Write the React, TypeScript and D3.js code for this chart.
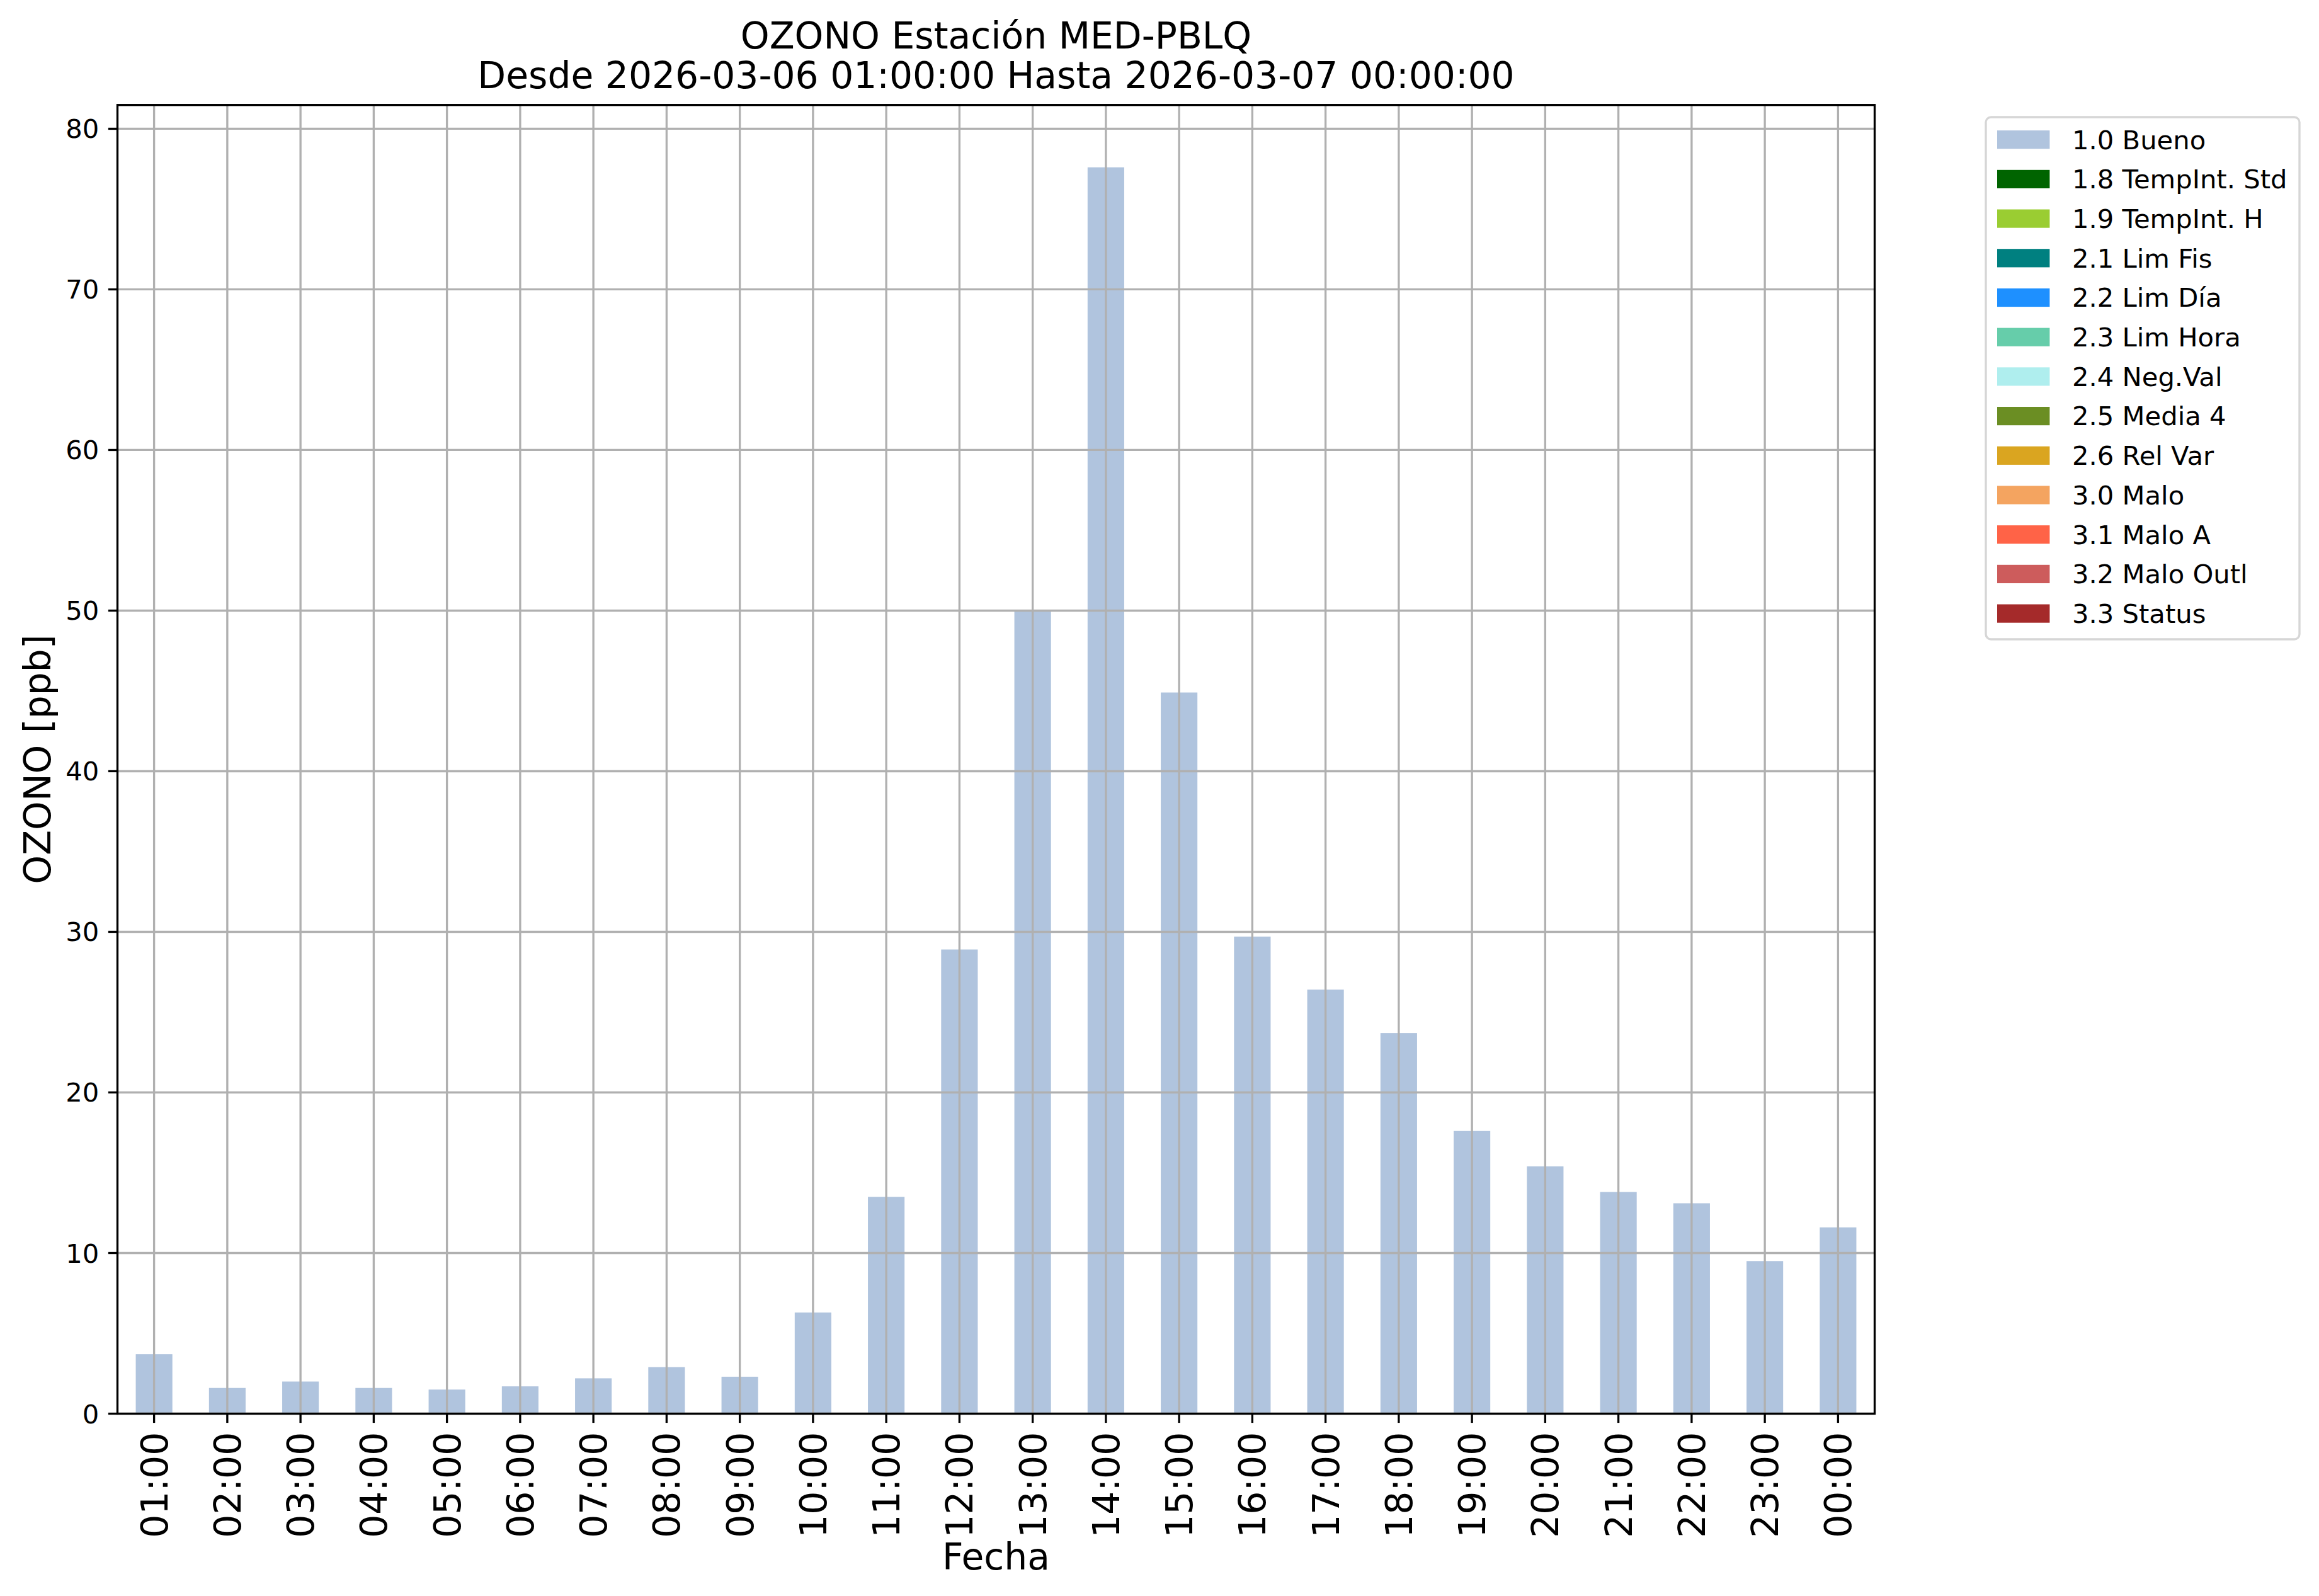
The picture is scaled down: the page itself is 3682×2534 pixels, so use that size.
import React from "react";
import * as d3 from "d3";

const hours = ["01:00","02:00","03:00","04:00","05:00","06:00","07:00","08:00","09:00","10:00","11:00","12:00","13:00","14:00","15:00","16:00","17:00","18:00","19:00","20:00","21:00","22:00","23:00","00:00"];
const ozono = [3.7,1.6,2.0,1.6,1.5,1.7,2.2,2.9,2.3,6.3,13.5,28.9,50.0,77.6,44.9,29.7,26.4,23.7,17.6,15.4,13.8,13.1,9.5,11.6];
const yTicks = [0,10,20,30,40,50,60,70,80];
const legendLabels = ["1.0 Bueno","1.8 TempInt. Std","1.9 TempInt. H","2.1 Lim Fis","2.2 Lim Día","2.3 Lim Hora","2.4 Neg.Val","2.5 Media 4","2.6 Rel Var","3.0 Malo","3.1 Malo A","3.2 Malo Outl","3.3 Status"];
const legendColors = ["#b0c4de","#006400","#9acd32","#008080","#1e90ff","#66cdaa","#afeeee","#6b8e23","#daa520","#f4a460","#ff6347","#cd5c5c","#a52a2a"];
const titleLines = ["OZONO Estación MED-PBLQ","Desde 2026-03-06 01:00:00 Hasta 2026-03-07 00:00:00"];

const W = 3682, H = 2534;
const L = 186.5, R = 2976.5, T = 166.7, B = 2244.5;
const FONT = "DejaVu Sans, sans-serif";

export default function App() {
  const x = d3.scaleLinear().domain([-0.5, hours.length - 0.5]).range([L, R]);
  const y = d3.scaleLinear().domain([0, 81.48]).range([B, T]);
  const bw = x(0.25) - x(-0.25);
  const lw = 3.33;
  const grid = "#b0b0b0";
  const cx = (L + R) / 2;
  const rowY = (i: number) => 221.7 + i * 62.7;
  return (
    <svg width={W} height={H} style={{ position: "absolute", left: 0, top: 0, background: "#fff" }} fontFamily={FONT}>
      <rect x={0} y={0} width={W} height={H} fill="#fff" />
      {/* bars */}
      {ozono.map((v, i) => (
        <rect key={"b" + i} x={x(i) - bw / 2} y={y(v)} width={bw} height={y(0) - y(v)} fill="#b0c4de" />
      ))}
      {/* grid */}
      {hours.map((h, i) => (
        <line key={"gx" + i} x1={x(i)} x2={x(i)} y1={T} y2={B} stroke={grid} strokeWidth={lw} />
      ))}
      {yTicks.map((t) => (
        <line key={"gy" + t} x1={L} x2={R} y1={y(t)} y2={y(t)} stroke={grid} strokeWidth={lw} />
      ))}
      {/* spines */}
      <rect x={L} y={T} width={R - L} height={B - T} fill="none" stroke="#000" strokeWidth={lw} />
      {/* y ticks */}
      {yTicks.map((t) => (
        <g key={"yt" + t}>
          <line x1={L - 14.6} x2={L} y1={y(t)} y2={y(t)} stroke="#000" strokeWidth={lw} />
          <text x={L - 29.2} y={y(t)} dy="0.36em" textAnchor="end" fontSize={41.7} fill="#000">{t}</text>
        </g>
      ))}
      {/* x ticks */}
      {hours.map((h, i) => (
        <g key={"xt" + i}>
          <line x1={x(i)} x2={x(i)} y1={B} y2={B + 14.6} stroke="#000" strokeWidth={lw} />
          <text transform={`translate(${x(i)},${B + 29.2}) rotate(-90)`} dy="0.36em" textAnchor="end" fontSize={58.3} fill="#000">{h}</text>
        </g>
      ))}
      {/* axis labels */}
      <text x={cx} y={2491.7} textAnchor="middle" fontSize={58.3} fill="#000">Fecha</text>
      <text transform={`translate(80,${(T + B) / 2}) rotate(-90)`} textAnchor="middle" fontSize={58.3} fill="#000">OZONO [ppb]</text>
      {/* title */}
      {titleLines.map((s, i) => (
        <text key={"t" + i} x={cx} y={76.7 + i * 63.3} textAnchor="middle" fontSize={58.3} fill="#000">{s}</text>
      ))}
      {/* legend */}
      <rect x={3153} y={186} width={3651 - 3153} height={1015 - 186} rx={8.3} ry={8.3} fill="#fff" fillOpacity={0.8} stroke="#cccccc" strokeOpacity={0.8} strokeWidth={lw} />
      {legendLabels.map((lab, i) => (
        <g key={"l" + i}>
          <rect x={3171} y={rowY(i) - 14.6} width={83.4} height={29.2} fill={legendColors[i]} />
          <text x={3290} y={rowY(i) + 14.8} fontSize={41.7} fill="#000">{lab}</text>
        </g>
      ))}
    </svg>
  );
}
